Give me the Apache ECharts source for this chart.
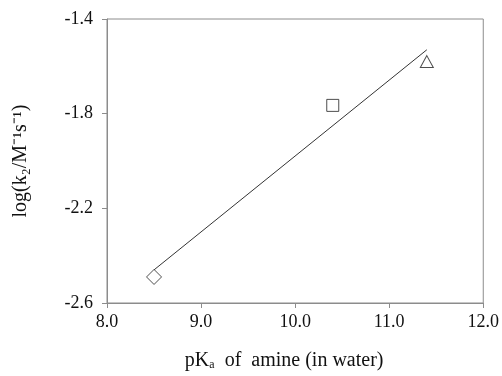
<!DOCTYPE html>
<html>
<head>
<meta charset="utf-8">
<script src="https://cdn.jsdelivr.net/npm/echarts@6/dist/echarts.min.js"></script>
<style>
  html, body { margin: 0; padding: 0; background: #fff; }
  #chart { width: 502px; height: 376px; }
</style>
</head>
<body>
<div id="chart"></div>
<script>
// measured points (pKa, log k2)
const diamondPt = [[8.5, -2.49]]
const squarePt = [[10.4, -1.765]]
const trianglePt = [[11.4, -1.58]]
// linear fit drawn across the data range
const fitLine = [[8.5, -2.46], [11.4, -1.53]]
const yTicks = [-2.6, -2.2, -1.8, -1.4]
const xTicks = [8, 9, 10, 11, 12]

const axisGrey = '#8c8c8c'
const font = 'Liberation Serif'

var myChart = echarts.init(document.getElementById('chart'))

const markerStyle = {
  color: '#fff',
  borderColor: '#222',
  borderWidth: 1
}

myChart.setOption({
  animation: false,
  grid: {
    left: 107,
    right: 16,
    top: 19,
    bottom: 73,
    show: true,
    borderColor: axisGrey,
    borderWidth: 1
  },
  xAxis: {
    type: 'value',
    min: 8,
    max: 12,
    interval: 1,
    name: 'pKₐ  of  amine (in water)',
    nameLocation: 'middle',
    nameGap: 48,
    nameTextStyle: { fontFamily: font, fontSize: 20, color: '#111', padding: [0, 22, 0, 0] },
    axisLine: { show: true, lineStyle: { color: axisGrey } },
    axisTick: { show: true, length: 5, lineStyle: { color: axisGrey }, customValues: xTicks },
    axisLabel: {
      fontFamily: font, fontSize: 18, color: '#111', margin: 10,
      customValues: xTicks,
      formatter: function (v) { return v.toFixed(1) }
    },
    splitLine: { show: false }
  },
  yAxis: {
    type: 'value',
    min: -2.6,
    max: -1.4,
    name: 'log(k₂/M⁻¹s⁻¹)',
    nameLocation: 'middle',
    nameGap: 76,
    nameTextStyle: { fontFamily: font, fontSize: 20, color: '#111' },
    axisLine: { show: true, lineStyle: { color: axisGrey } },
    axisTick: { show: true, length: 5, lineStyle: { color: axisGrey }, customValues: yTicks },
    axisLabel: {
      fontFamily: font, fontSize: 18, color: '#111', margin: 14,
      customValues: yTicks,
      formatter: function (v) { return v.toFixed(1) }
    },
    splitLine: { show: false }
  },
  series: [
    {
      type: 'line',
      data: fitLine,
      symbol: 'none',
      lineStyle: { color: '#333', width: 1 },
      z: 1
    },
    {
      type: 'scatter',
      data: diamondPt,
      symbol: 'diamond',
      symbolSize: [15, 15],
      itemStyle: markerStyle,
      z: 2
    },
    {
      type: 'scatter',
      data: squarePt,
      symbol: 'rect',
      symbolSize: 12,
      itemStyle: markerStyle,
      z: 2
    },
    {
      type: 'scatter',
      data: trianglePt,
      symbol: 'triangle',
      symbolSize: [13, 12],
      itemStyle: markerStyle,
      z: 2
    }
  ]
})
</script>
</body>
</html>
